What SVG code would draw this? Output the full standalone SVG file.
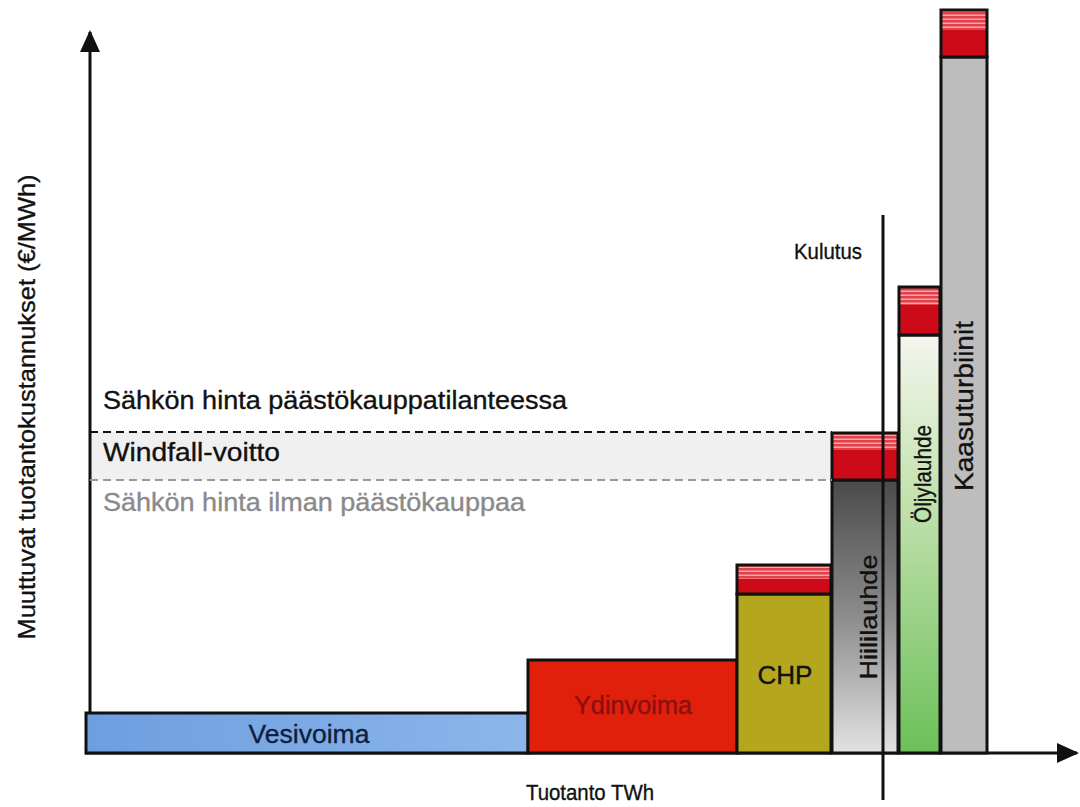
<svg xmlns="http://www.w3.org/2000/svg" width="1080" height="807" viewBox="0 0 1080 807">
<defs>
<style>
.t{font-family:"Liberation Sans",Arial,sans-serif;font-size:20px;fill:#111;stroke:#111;stroke-width:0.35}
.big{font-size:25px}
.bar{stroke:#111;stroke-width:3}
.ax{stroke:#111;stroke-width:3;fill:none}
</style>
<marker id="ah" markerWidth="22" markerHeight="20" refX="20" refY="10" orient="auto" markerUnits="userSpaceOnUse" viewBox="0 0 22 20"><path d="M0,0L22,10L0,20z" fill="#111"/></marker>
<linearGradient id="gBlue" x1="0" y1="0" x2="1" y2="0"><stop offset="0" stop-color="#6d9ee0"/><stop offset="1" stop-color="#8cb6ea"/></linearGradient>
<linearGradient id="gHiili" x1="0" y1="0" x2="0" y2="1"><stop offset="0" stop-color="#4a4a4a"/><stop offset="0.5" stop-color="#8c8c8c"/><stop offset="1" stop-color="#e2e2e2"/></linearGradient>
<linearGradient id="gOil" x1="0" y1="0" x2="0" y2="1"><stop offset="0" stop-color="#f4f6ee"/><stop offset="0.35" stop-color="#c9e4b4"/><stop offset="1" stop-color="#6cc05a"/></linearGradient>
<pattern id="stripes" width="10" height="4" patternUnits="userSpaceOnUse"><rect width="10" height="4" fill="#e2404a"/><rect y="2.5" width="10" height="1.5" fill="#f6a8a8"/></pattern>
</defs>

<rect x="90" y="432" width="742" height="48" fill="#f0f0f0"/>

<g id="axes">
<line class="ax" x1="90" y1="753" x2="90" y2="32" marker-end="url(#ah)"/>
<line class="ax" x1="85" y1="753" x2="1077" y2="753" marker-end="url(#ah)"/>
</g>

<g id="vesivoima">
<rect class="bar" x="86" y="713" width="442" height="40" fill="url(#gBlue)"/>
<text class="t big" x="309" y="743" text-anchor="middle" textLength="121" lengthAdjust="spacingAndGlyphs" style="fill:#0f1e40;stroke:#0f1e40">Vesivoima</text>
</g>
<g id="ydinvoima">
<rect class="bar" x="528" y="660" width="209" height="93" fill="#e0200a"/>
<text class="t big" x="633" y="714" text-anchor="middle" textLength="118" lengthAdjust="spacingAndGlyphs" style="fill:#8a1010;stroke:#8a1010">Ydinvoima</text>
</g>
<g id="chp">
<rect class="bar" x="737" y="594" width="94" height="159" fill="#b4a71e"/>
<rect x="737" y="565" width="94" height="29" fill="url(#stripes)"/>
<rect x="737" y="579" width="94" height="15" fill="#cc0a18"/>
<rect x="737" y="565" width="94" height="29" fill="none" stroke="#111" stroke-width="3"/>
<text class="t big" x="785" y="684" text-anchor="middle" textLength="55" lengthAdjust="spacingAndGlyphs">CHP</text>
</g>
<g id="hiililauhde">
<rect class="bar" x="832" y="480" width="66" height="273" fill="url(#gHiili)"/>
<rect x="832" y="433" width="66" height="47" fill="url(#stripes)"/>
<rect x="832" y="450" width="66" height="30" fill="#cc0a18"/>
<rect x="832" y="433" width="66" height="47" fill="none" stroke="#111" stroke-width="3"/>
<text class="t" style="font-size:24px" transform="translate(877,617) rotate(-90)" text-anchor="middle" textLength="125" lengthAdjust="spacingAndGlyphs">Hiililauhde</text>
</g>
<g id="oljylauhde">
<rect class="bar" x="899" y="335" width="41" height="418" fill="url(#gOil)"/>
<rect x="899" y="287" width="41" height="48" fill="url(#stripes)"/>
<rect x="899" y="305" width="41" height="30" fill="#cc0a18"/>
<rect x="899" y="287" width="41" height="48" fill="none" stroke="#111" stroke-width="3"/>
<text class="t" style="font-size:24px" transform="translate(931,474) rotate(-90)" text-anchor="middle" textLength="98" lengthAdjust="spacingAndGlyphs">Öljylauhde</text>
</g>
<g id="kaasuturbiinit">
<rect class="bar" x="941" y="57" width="46" height="696" fill="#bdbdbd"/>
<rect x="941" y="10" width="46" height="47" fill="url(#stripes)"/>
<rect x="941" y="30" width="46" height="27" fill="#cc0a18"/>
<rect x="941" y="10" width="46" height="47" fill="none" stroke="#111" stroke-width="3"/>
<text class="t" style="font-size:25px" transform="translate(973,406) rotate(-90)" text-anchor="middle" textLength="170" lengthAdjust="spacingAndGlyphs">Kaasuturbiinit</text>
</g>

<g id="connectors">
<line x1="90" y1="432" x2="832" y2="432" stroke="#111" stroke-width="2" stroke-dasharray="8,5"/>
<line x1="90" y1="480" x2="832" y2="480" stroke="#999" stroke-width="2" stroke-dasharray="8,5"/>
<line x1="883" y1="215" x2="883" y2="800" stroke="#111" stroke-width="3"/>
</g>

<g id="labels">
<text class="t big" x="103" y="409" textLength="464" lengthAdjust="spacingAndGlyphs">Sähkön hinta päästökauppatilanteessa</text>
<text class="t big" x="103" y="461" textLength="177" lengthAdjust="spacingAndGlyphs">Windfall-voitto</text>
<text class="t big" x="103" y="511" textLength="422" lengthAdjust="spacingAndGlyphs" style="fill:#8a8a8a;stroke:#8a8a8a">Sähkön hinta ilman päästökauppaa</text>
<text class="t" style="font-size:22px" x="794" y="259" textLength="68" lengthAdjust="spacingAndGlyphs">Kulutus</text>
<text class="t" style="font-size:22px" x="590" y="800" text-anchor="middle" textLength="128" lengthAdjust="spacingAndGlyphs">Tuotanto TWh</text>
<text class="t" style="font-size:24px" transform="translate(35,407) rotate(-90)" text-anchor="middle" textLength="465" lengthAdjust="spacingAndGlyphs">Muuttuvat tuotantokustannukset (€/MWh)</text>
</g>
</svg>
